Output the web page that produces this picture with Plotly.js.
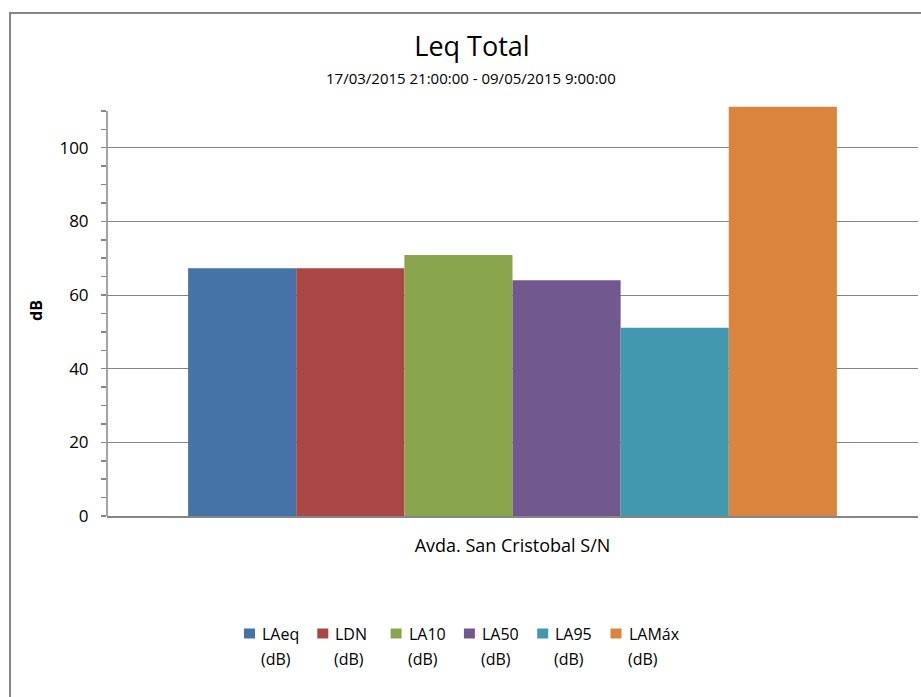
<!DOCTYPE html>
<html>
<head>
<meta charset="utf-8">
<script src="https://cdn.plot.ly/plotly-3.0.1.min.js"></script>
<style>
  html, body { margin: 0; padding: 0; background: #ffffff; }
  #chart { width: 921px; height: 697px; }
</style>
</head>
<body>
<div id="chart"></div>
<script>
// ---- data ----
const categories = ["Avda. San Cristobal S/N"];
const seriesNames = ["LAeq", "LDN", "LA10", "LA50", "LA95", "LAMáx"];
const seriesUnit = "(dB)";
const seriesValues = [
  [67.3],
  [67.3],
  [70.9],
  [64.0],
  [51.1],
  [111.1]
];
const seriesColors = ["#4572A7", "#AA4643", "#89A54E", "#71588F", "#4198AF", "#DB843D"];
const yTickValues = [0, 20, 40, 60, 80, 100];
const yAxisMax = 110;

const FONT = "'Open Sans', Lato, 'DejaVu Sans', sans-serif";
const GRAY = "#868686";

const traces = seriesNames.map((name, i) => ({
  type: "bar",
  name: name + " " + seriesUnit,
  x: categories,
  y: seriesValues[i],
  marker: { color: seriesColors[i], line: { width: 0 } },
  hoverinfo: "name+y"
}));

// plot area geometry (pixels)
const W = 921, H = 697;
const L = 107, R = 3, B = 181;
const pxPerUnit = 3.679;
const yRangeTop = 111.6;                        // a bit above the tallest bar
const plotH = yRangeTop * pxPerUnit;
const T = Math.round(H - B - plotH);
const pw = W - L - R, ph = H - T - B;
const px2x = (px) => (px - L) / pw;
const py2y = (py) => (H - B - py) / ph;

// manual legend (keys + two-line labels)
const legendShapes = [];
const legendAnnots = [];
seriesNames.forEach((name, i) => {
  const x0 = 244 + 73.3 * i;
  legendShapes.push({
    type: "rect", xref: "paper", yref: "paper",
    x0: px2x(x0), x1: px2x(x0 + 11),
    y0: py2y(638.5), y1: py2y(628.5),
    line: { width: 0 }, fillcolor: seriesColors[i]
  });
  legendAnnots.push({
    text: name, xref: "paper", yref: "paper",
    x: px2x(x0 + 16), y: py2y(634),
    xanchor: "left", yanchor: "middle", showarrow: false,
    font: { family: FONT, size: 16, color: "#000000" }
  });
  legendAnnots.push({
    text: seriesUnit, xref: "paper", yref: "paper",
    x: px2x(x0 + 15), y: py2y(659),
    xanchor: "left", yanchor: "middle", showarrow: false,
    font: { family: FONT, size: 16, color: "#000000" }
  });
});

const layout = {
  width: W,
  height: H,
  margin: { l: L, r: R, t: T, b: B, pad: 0 },
  paper_bgcolor: "#ffffff",
  plot_bgcolor: "#ffffff",
  font: { family: FONT, color: "#000000", size: 16 },
  title: {
    text: "Leq Total",
    font: { family: FONT, size: 27, color: "#000000" },
    x: 472 / W, xanchor: "center", xref: "container",
    y: 1 - 47 / H, yanchor: "middle", yref: "container"
  },
  barmode: "group",
  bargap: 0.2,
  bargroupgap: 0,
  showlegend: false,
  xaxis: {
    type: "category",
    showline: true,
    linecolor: GRAY,
    linewidth: 1.5,
    ticks: "inside",
    tickson: "boundaries",
    ticklen: 5,
    tickcolor: GRAY,
    tickwidth: 1.5,
    showgrid: false,
    zeroline: false,
    tickfont: { family: FONT, size: 18, color: "#000000" },
    ticklabelstandoff: 13,
    fixedrange: true
  },
  yaxis: {
    range: [0, yRangeTop],
    tickmode: "array",
    tickvals: yTickValues,
    ticktext: yTickValues.map(String),
    showline: false,
    ticks: "outside",
    ticklen: 5,
    tickcolor: GRAY,
    tickwidth: 1.5,
    showgrid: true,
    gridcolor: GRAY,
    gridwidth: 1,
    zeroline: false,
    tickfont: { family: FONT, size: 17, color: "#000000" },
    ticklabelstandoff: 9,
    minor: {
      tickmode: "array",
      tickvals: [5, 10, 15, 25, 30, 35, 45, 50, 55, 65, 70, 75, 85, 90, 95, 105, 110],
      ticks: "outside",
      ticklen: 5,
      tickcolor: GRAY,
      tickwidth: 1.5,
      showgrid: false
    },
    title: {
      text: "<b>dB</b>",
      font: { family: FONT, size: 16, color: "#000000" },
      standoff: 12
    },
    fixedrange: true
  },
  annotations: [
    {
      text: "17/03/2015 21:00:00 - 09/05/2015 9:00:00",
      xref: "paper", yref: "paper",
      x: px2x(470.5), y: py2y(78),
      xanchor: "center", yanchor: "middle",
      showarrow: false,
      font: { family: FONT, size: 15, color: "#000000" }
    }
  ].concat(legendAnnots),
  shapes: [
    {
      type: "rect",
      xref: "paper", yref: "paper",
      x0: px2x(10), x1: px2x(930),
      y0: py2y(710), y1: py2y(13),
      line: { color: GRAY, width: 2 },
      fillcolor: "rgba(0,0,0,0)",
      layer: "below"
    },
    {
      // y axis line, from 0 up to the axis maximum
      type: "line",
      xref: "paper", yref: "y",
      x0: 0, x1: 0, y0: 0, y1: yAxisMax,
      line: { color: GRAY, width: 1.5 },
      layer: "above"
    }
  ].concat(legendShapes)
};

Plotly.newPlot("chart", traces, layout, { displayModeBar: false, staticPlot: true });
</script>
</body>
</html>
